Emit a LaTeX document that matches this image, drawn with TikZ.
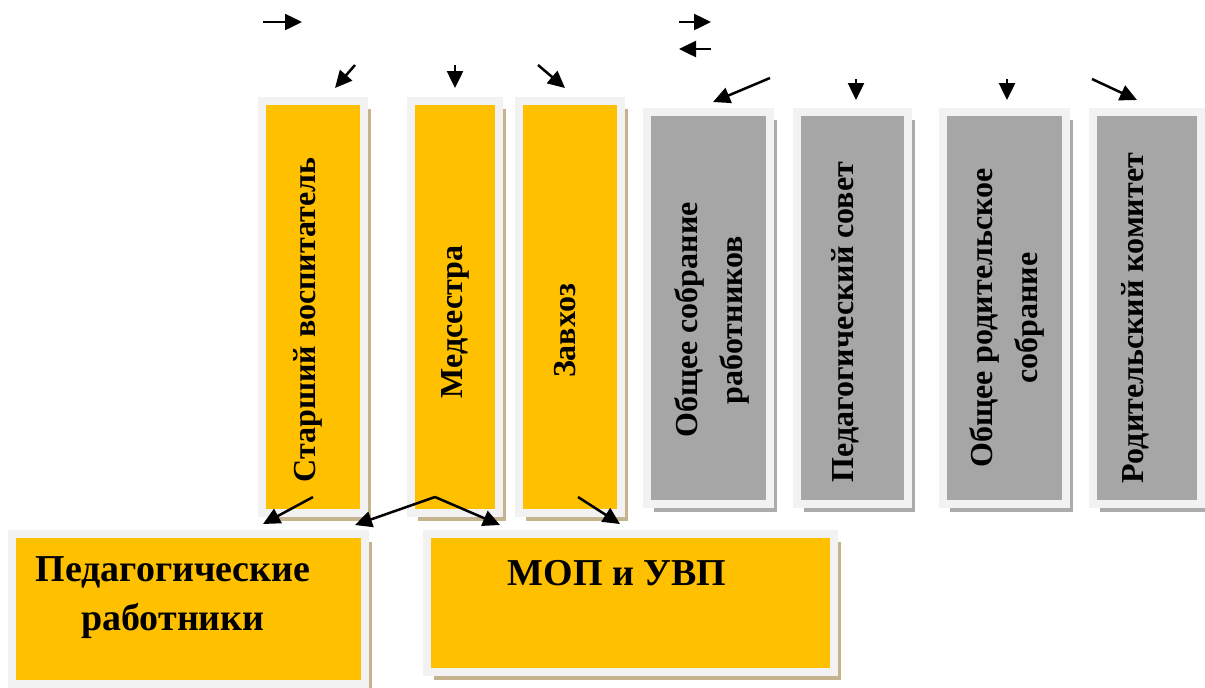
\documentclass[tikz,border=0pt]{standalone}
\usepackage{fontspec}
\setmainfont{Liberation Serif}
\usetikzlibrary{arrows.meta,shadows}
\definecolor{boxyellow}{HTML}{FFC000}
\definecolor{boxgray}{HTML}{A6A6A6}
\definecolor{framegray}{HTML}{F2F2F2}
\definecolor{shadowtan}{HTML}{C4B38C}
\definecolor{shadowgray}{HTML}{ABABAB}

\begin{document}
\begin{tikzpicture}[x=0.5pt,y=-0.5pt,
    ybox/.style={fill=boxyellow, draw=framegray, line width=4pt, inner sep=0pt,
        drop shadow={shadow xshift=3.5pt, shadow yshift=-4pt, fill=shadowtan, opacity=1}},
    gbox/.style={fill=boxgray, draw=framegray, line width=4pt, inner sep=0pt,
        drop shadow={shadow xshift=3.5pt, shadow yshift=-4pt, fill=shadowgray, opacity=1}},
    vtext/.style={rotate=90, align=center, inner sep=0pt,
        font=\fontsize{16}{22.5}\selectfont\bfseries},
    htext/.style={align=center, inner sep=0pt,
        font=\fontsize{19}{24.5}\selectfont\bfseries},
    arr/.style={line width=1.25pt, -{Triangle[length=8.5pt,width=8pt]}}]
    \useasboundingbox (0,0) rectangle (1205,687);

    % upper row, yellow
    \node[ybox, minimum width=51pt, minimum height=206pt] (b-sv) at (313,307) {};
    \node[ybox, minimum width=44pt, minimum height=206pt] (b-med) at (455,307) {};
    \node[ybox, minimum width=51pt, minimum height=206pt] (b-zav) at (570,307) {};
    % upper row, gray
    \node[gbox, minimum width=61.5pt, minimum height=196pt] (b-osr) at (708.5,308) {};
    \node[gbox, minimum width=55.5pt, minimum height=196pt] (b-ps) at (852.5,308) {};
    \node[gbox, minimum width=61.5pt, minimum height=196pt] (b-ors) at (1004.5,308) {};
    \node[gbox, minimum width=54pt, minimum height=196pt] (b-rk) at (1147,308) {};
    % lower row
    \node[ybox, minimum width=176.5pt, minimum height=75pt] (b-pr) at (188.5,609) {};
    \node[ybox, minimum width=203.5pt, minimum height=69pt] (b-mop) at (630.5,603) {};

    % texts
    \node[vtext] (t-sv) at (308,320) {Старший воспитатель};
    \node[vtext] (t-med) at (455,322) {Медсестра};
    \node[vtext] (t-zav) at (565,331) {Завхоз};
    \node[vtext] (t-osr) at (712,320) {Общее собрание\\работников};
    \node[vtext] (t-ps) at (845,322) {Педагогический совет};
    \node[vtext] (t-ors) at (1007,318) {Общее родительское\\собрание};
    \node[vtext] (t-rk) at (1135,318) {Родительский комитет};
    \node[htext] (t-pr) at (173,598) {Педагогические\\работники};
    \node[htext] (t-mop) at (617,573) {МОП и УВП};

    % loose arrows on top
    \coordinate (a1) at (263,22);  \coordinate (a2) at (302,22);
    \coordinate (a3) at (679,22);  \coordinate (a4) at (711,22);
    \coordinate (a5) at (711,49);  \coordinate (a6) at (679,49);
    \draw[arr] (a1) -- (a2);
    \draw[arr] (a3) -- (a4);
    \draw[arr] (a5) -- (a6);

    % arrows into the upper boxes
    \coordinate (s-sv) at (355,65);   \coordinate (e-sv) at (335,88);
    \coordinate (s-med) at (455,65);  \coordinate (e-med) at (455,88);
    \coordinate (s-zav) at (538,65);  \coordinate (e-zav) at (565,88);
    \coordinate (s-osr) at (770,78);  \coordinate (e-osr) at (713,102);
    \coordinate (s-ps) at (856,79);   \coordinate (e-ps) at (856,100);
    \coordinate (s-ors) at (1007,79); \coordinate (e-ors) at (1007,100);
    \coordinate (s-rk) at (1092,79);  \coordinate (e-rk) at (1137,100);
    \foreach \b in {sv,med,zav,osr,ps,ors,rk}
        \draw[arr] (s-\b) -- (e-\b);

    % arrows into the lower boxes
    \coordinate (l1) at (313,497);  \coordinate (l2) at (263,524);
    \coordinate (l3) at (435,497);  \coordinate (l4) at (355,525);
    \coordinate (l5) at (500,525);
    \coordinate (l6) at (578,497);  \coordinate (l7) at (620,524);
    \draw[arr] (l1) -- (l2);
    \draw[arr] (l3) -- (l4);
    \draw[arr] (l3) -- (l5);
    \draw[arr] (l6) -- (l7);
\end{tikzpicture}
\end{document}
